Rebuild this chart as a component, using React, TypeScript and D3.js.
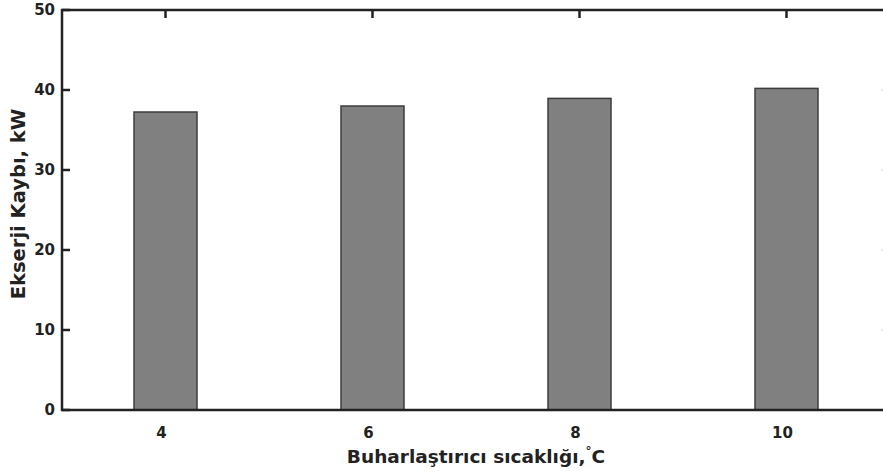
import { useRef, useEffect } from 'react';
import * as d3 from 'd3';

const temps = [4, 6, 8, 10];
const exergyLoss = [37.25, 38.0, 38.95, 40.2];
const yTicks = [0, 10, 20, 30, 40, 50];

export default function App() {
  const svgRef = useRef<SVGSVGElement>(null);

  useEffect(() => {
    if (!svgRef.current) return;
    const svg = d3.select(svgRef.current);
    svg.selectAll('*').remove();

    const width = 883;
    const height = 475;
    svg.attr('width', width).attr('height', height);

    const margin = { top: 10, left: 62, bottom: 65, right: -7 };
    const innerW = width - margin.left - margin.right;
    const innerH = height - margin.top - margin.bottom;

    const g = svg.append('g').attr('transform', `translate(${margin.left},${margin.top})`);

    const x = d3.scaleLinear().domain([3, 11]).range([0, innerW]);
    const y = d3.scaleLinear().domain([0, 50]).range([innerH, 0]);
    const barW = 63;

    const font = '"DejaVu Sans", Verdana, sans-serif';

    // bars
    g.selectAll('.bar')
      .data(temps)
      .join('rect')
      .attr('x', (d) => x(d) - barW / 2)
      .attr('y', (_, i) => y(exergyLoss[i]))
      .attr('width', barW)
      .attr('height', (_, i) => innerH - y(exergyLoss[i]))
      .attr('fill', '#808080')
      .attr('stroke', '#3c3c3c')
      .attr('stroke-width', 1.5);

    // right axis (mostly off-screen) ticks
    g.selectAll('.rtick')
      .data(yTicks.slice(1, 5))
      .join('line')
      .attr('x1', innerW)
      .attr('x2', innerW - 8)
      .attr('y1', (d) => y(d))
      .attr('y2', (d) => y(d))
      .attr('stroke', '#d5d5d5')
      .attr('stroke-width', 2);

    // frame: left, top, bottom
    const axisColor = '#222';
    g.append('line').attr('x1', 0).attr('x2', 0).attr('y1', -1).attr('y2', innerH + 1)
      .attr('stroke', axisColor).attr('stroke-width', 2.5);
    g.append('line').attr('x1', -1).attr('x2', innerW).attr('y1', 0).attr('y2', 0)
      .attr('stroke', axisColor).attr('stroke-width', 2.5);
    g.append('line').attr('x1', -1).attr('x2', innerW).attr('y1', innerH).attr('y2', innerH)
      .attr('stroke', axisColor).attr('stroke-width', 2.5);

    // left ticks (inward)
    g.selectAll('.ltick')
      .data(yTicks)
      .join('line')
      .attr('x1', 0)
      .attr('x2', 8)
      .attr('y1', (d) => y(d))
      .attr('y2', (d) => y(d))
      .attr('stroke', axisColor)
      .attr('stroke-width', 2.5);

    // top ticks (inward)
    g.selectAll('.ttick')
      .data(temps)
      .join('line')
      .attr('x1', (d) => x(d))
      .attr('x2', (d) => x(d))
      .attr('y1', 0)
      .attr('y2', 8)
      .attr('stroke', axisColor)
      .attr('stroke-width', 2.5);

    // y tick labels
    g.selectAll('.ylab')
      .data(yTicks)
      .join('text')
      .attr('x', -7)
      .attr('y', (d) => y(d))
      .attr('dy', '0.36em')
      .attr('text-anchor', 'end')
      .attr('font-family', font)
      .attr('font-weight', 'bold')
      .attr('font-size', 15)
      .attr('fill', '#222')
      .text((d) => d);

    // x tick labels
    g.selectAll('.xlab')
      .data(temps)
      .join('text')
      .attr('x', (d) => x(d) - 4)
      .attr('y', innerH + 28)
      .attr('text-anchor', 'middle')
      .attr('font-family', font)
      .attr('font-weight', 'bold')
      .attr('font-size', 15)
      .attr('fill', '#222')
      .text((d) => d);

    // x axis title
    const xt = g.append('text')
      .attr('x', innerW / 2)
      .attr('y', innerH + 53)
      .attr('text-anchor', 'middle')
      .attr('font-family', font)
      .attr('font-weight', 'bold')
      .attr('font-size', 18.5)
      .attr('fill', '#222');
    xt.append('tspan').text('Buharlaştırıcı sıcaklığı,');
    xt.append('tspan').attr('dy', -8).attr('font-size', 12).text('°');
    xt.append('tspan').attr('dy', 8).text('C');

    // y axis title
    g.append('text')
      .attr('transform', `translate(${-37},${innerH / 2 - 6}) rotate(-90)`)
      .attr('text-anchor', 'middle')
      .attr('font-family', font)
      .attr('font-weight', 'bold')
      .attr('font-size', 19.5)
      .attr('fill', '#222')
      .text('Ekserji Kaybı, kW');
  }, []);

  return (
    <svg
      ref={svgRef}
      style={{ position: 'absolute', left: 0, top: 0, background: '#fff' }}
    />
  );
}
